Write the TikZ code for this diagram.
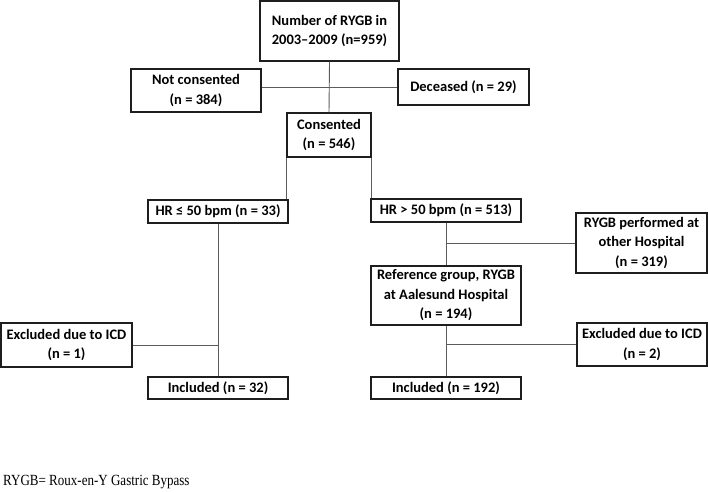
\documentclass[tikz,border=0pt]{standalone}
\usepackage{fontspec}
\setmainfont{Liberation Serif}
\newfontfamily\boxfont[Ligatures=TeX]{Carlito}
\newfontfamily\notefont[FakeStretch=0.84]{Liberation Serif}
\usetikzlibrary{positioning, calc}
\definecolor{fcBorder}{HTML}{1E1E1E}
\definecolor{fcLine}{HTML}{5C5C5C}
\tikzset{
  fcbox/.style={rectangle, draw=fcBorder, line width=1.3pt, fill=white,
    align=center, inner sep=0pt, font=\boxfont\bfseries\fontsize{14.5}{19.5}\selectfont},
  fcline/.style={draw=fcLine, line width=0.9pt},
  fcnote/.style={anchor=base west, inner sep=0pt, font=\notefont\fontsize{15.5}{17}\selectfont}
}
\begin{document}
\begin{tikzpicture}[x=1pt, y=-1pt]
  \useasboundingbox (0,0) rectangle (708,492);
  % top part
  \node[fcbox, minimum width=139pt, minimum height=60pt] (total) at (329.5,31) {Number of RYGB in\\2003--2009 (n=959)};
  \node[fcbox, minimum width=130pt, minimum height=43pt] (notcons) at (196,90.5) {Not consented\\(n = 384)};
  \node[fcbox, minimum width=131pt, minimum height=36pt] (deceased) at (463.5,87) {Deceased (n = 29)};
  \node[fcbox, minimum width=84pt, minimum height=44pt] (cons) at (329,135) {Consented\\(n = 546)};
  % heart rate groups
  \node[fcbox, minimum width=140pt, minimum height=23pt] (hrlow) at (218,211.5) {HR ≤ 50 bpm (n = 33)};
  \node[fcbox, minimum width=150pt, minimum height=23pt] (hrhigh) at (446,210.5) {HR > 50 bpm (n = 513)};
  \node[fcbox, minimum width=131pt, minimum height=60pt] (other) at (641.5,243) {RYGB performed at\\other Hospital\\(n = 319)};
  \node[fcbox, minimum width=150pt, minimum height=59pt] (refgrp) at (446,295.5) {Reference group, RYGB\\at Aalesund Hospital\\(n = 194)};
  % exclusions and final
  \node[fcbox, minimum width=131pt, minimum height=44pt] (exclow) at (66.5,345) {Excluded due to ICD\\(n = 1)};
  \node[fcbox, minimum width=130pt, minimum height=43pt] (exchigh) at (642,344.5) {Excluded due to ICD\\(n = 2)};
  \node[fcbox, minimum width=140pt, minimum height=22pt] (inclow) at (218,388) {Included (n = 32)};
  \node[fcbox, minimum width=150pt, minimum height=22pt] (inchigh) at (446,388) {Included (n = 192)};
  \node[fcnote] (note) at (3,485.5) {RYGB= Roux-en-Y Gastric Bypass};
  % connectors
  \draw[fcline] (total.south) -- (cons.north);
  \draw[fcline] (notcons.east |- deceased.west) -- (deceased.west);
  \draw[fcline] (cons.south west) -- (cons.south west |- hrlow.north);
  \draw[fcline] (cons.south east) -- (cons.south east |- hrhigh.north);
  \draw[fcline] (hrlow.south) -- (inclow.north);
  \draw[fcline] (exclow.east) -- (exclow.east -| inclow.north);
  \draw[fcline] (hrhigh.south) -- (refgrp.north);
  \draw[fcline] (other.west) -- (other.west -| hrhigh.south);
  \draw[fcline] (refgrp.south) -- (inchigh.north);
  \draw[fcline] (exchigh.west) -- (exchigh.west -| inchigh.north);
\end{tikzpicture}
\end{document}
